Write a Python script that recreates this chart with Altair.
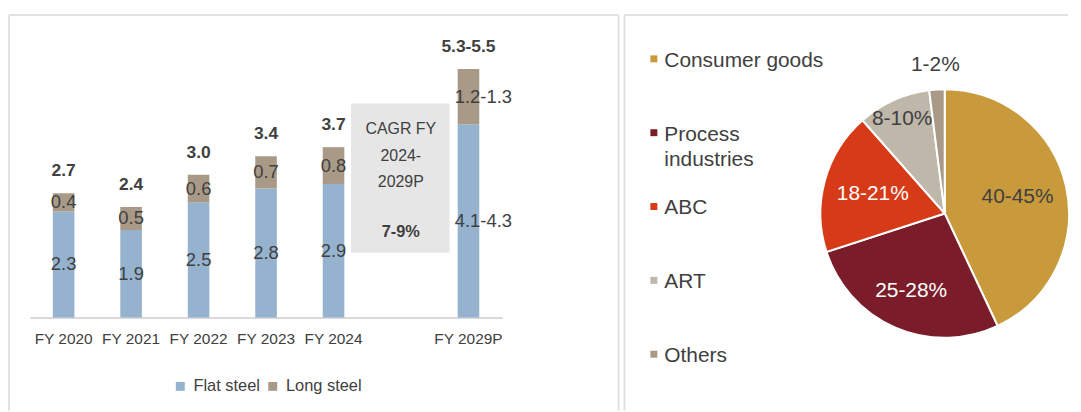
import altair as alt
import pandas as pd

# ---------------- data ----------------
years = ["FY 2020", "FY 2021", "FY 2022", "FY 2023", "FY 2024", "FY 2029P"]
flat_vals = [2.3, 1.9, 2.5, 2.8, 2.9, 4.2]
long_vals = [0.4, 0.5, 0.6, 0.7, 0.8, 1.2]
flat_labels = ["2.3", "1.9", "2.5", "2.8", "2.9", "4.1-4.3"]
long_labels = ["0.4", "0.5", "0.6", "0.7", "0.8", "1.2-1.3"]
total_labels = ["2.7", "2.4", "3.0", "3.4", "3.7", "5.3-5.5"]
steel_types = ["Flat steel", "Long steel"]
steel_colors = ["#95B3CF", "#A89A87"]
gap_slot = " "
cagr_title = "CAGR FY\n2024-\n2029P"
cagr_value = "7-9%"

segments = ["Consumer goods", "Process industries", "ABC", "ART", "Others"]
shares = [43, 27, 18.5, 9.5, 2]
share_labels = ["40-45%", "25-28%", "18-21%", "8-10%", "1-2%"]
segment_colors = ["#C99A3B", "#7B1C2A", "#D63A16", "#BEB7AA", "#A89A87"]
legend_labels = ["Consumer goods", "Process\nindustries", "ABC", "ART", "Others"]

# ---------------- style ----------------
FONT = "Liberation Sans, Arial, sans-serif"
TXT = "#404040"
FRAME = "#E2E2E2"
LW, H = 613, 398
RW = 446

rows = []
for i, yr in enumerate(years):
    rows.append({"year": yr, "type": steel_types[0], "ord": 0, "value": flat_vals[i],
                 "label": flat_labels[i], "total": total_labels[i]})
    rows.append({"year": yr, "type": steel_types[1], "ord": 1, "value": long_vals[i],
                 "label": long_labels[i], "total": total_labels[i]})
bars_df = pd.DataFrame(rows)

x_domain = years[:5] + [gap_slot] + years[5:]
xscale = alt.Scale(domain=x_domain, range=[21, 496], paddingInner=0.68, paddingOuter=0.34)
yscale = alt.Scale(domain=[0, 6.57], range=[304, 0], nice=False, zero=False)

xenc = alt.X("year:N", scale=xscale,
             axis=alt.Axis(title=None, labelAngle=0, ticks=False, tickSize=0,
                           domainColor="#D9D9D9", domainWidth=2, labelPadding=14.5,
                           labelFontSize=15.5, labelFont=FONT, labelColor=TXT,
                           offset=304 - H, grid=False))

base = alt.Chart(bars_df).transform_stack(
    stack="value", groupby=["year"], as_=["y0", "y1"],
    sort=[alt.SortField("ord", order="ascending")]
).transform_calculate(mid="(datum.y0 + datum.y1) / 2")

bars = base.mark_bar().encode(
    x=xenc,
    y=alt.Y("y0:Q", scale=yscale, axis=None),
    y2="y1:Q",
    color=alt.Color("type:N", scale=alt.Scale(domain=steel_types, range=steel_colors),
                    legend=alt.Legend(orient="none", legendX=164, legendY=365,
                                      direction="horizontal", title=None,
                                      symbolType="square", symbolSize=81,
                                      symbolStrokeWidth=0, labelFontSize=16.5,
                                      labelFont=FONT, labelColor=TXT,
                                      columnPadding=4, labelOffset=5, padding=0)),
)

seg_text = base.transform_filter(alt.datum.year != years[-1]).mark_text(
    fontSize=18.5, font=FONT, color=TXT, baseline="middle"
).encode(x=xenc, y=alt.Y("mid:Q", scale=yscale, axis=None), text="label:N")

seg_text_last = base.transform_filter(alt.datum.year == years[-1]).mark_text(
    fontSize=18.5, font=FONT, color=TXT, baseline="middle", dx=15
).encode(x=xenc, y=alt.Y("mid:Q", scale=yscale, axis=None), text="label:N")

totals = base.transform_joinaggregate(tot="sum(value)", groupby=["year"]).transform_filter(
    alt.datum.type == steel_types[0]
).mark_text(fontSize=17.5, font=FONT, fontWeight="bold", color=TXT, baseline="bottom", dy=-13).encode(
    x=xenc, y=alt.Y("tot:Q", scale=yscale, axis=None), text="total:N")

one = pd.DataFrame({"t": [cagr_title], "v": [cagr_value]})
cagr_box = alt.Chart(one).mark_rect(color="#E6E6E6").encode(
    x=alt.value(344), x2=alt.value(443), y=alt.value(89), y2=alt.value(239))
cagr_txt = alt.Chart(one).mark_text(
    fontSize=16, font=FONT, color=TXT, baseline="top", lineBreak="\n", lineHeight=26.5
).encode(x=alt.value(394), y=alt.value(107), text="t:N")
cagr_val = alt.Chart(one).mark_text(
    fontSize=16.5, font=FONT, color=TXT, baseline="middle", fontWeight="bold"
).encode(x=alt.value(394), y=alt.value(218), text="v:N")


def frame(width, right=True):
    parts = [
        alt.Chart(one).mark_rule(color=FRAME, strokeWidth=2).encode(
            x=alt.value(0), y=alt.value(0), y2=alt.value(H)),
        alt.Chart(one).mark_rule(color=FRAME, strokeWidth=2).encode(
            x=alt.value(0), x2=alt.value(width), y=alt.value(0)),
    ]
    if right:
        parts.append(alt.Chart(one).mark_rule(color=FRAME, strokeWidth=2).encode(
            x=alt.value(width), y=alt.value(0), y2=alt.value(H)))
    return parts


left = alt.layer(*frame(LW), cagr_box, bars, seg_text, seg_text_last, totals,
                 cagr_txt, cagr_val).properties(width=LW, height=H)

# ---------------- right panel ----------------
pie_df = pd.DataFrame({"seg": segments, "share": shares, "label": share_labels,
                       "ord": list(range(len(segments)))})
leg_df = pd.DataFrame({"seg": segments, "lab": legend_labels})

seg_scale = alt.Scale(domain=segments, range=segment_colors)
theta_scale = alt.Scale(domain=[0, 100], range=[0, 6.283185307179586])
CX, CY = 322, 199.5

pie_base = alt.Chart(pie_df).transform_window(
    cum="sum(share)", sort=[alt.SortField("ord", order="ascending")], frame=[None, 0]
).transform_calculate(start="datum.cum - datum.share", mid="datum.cum - datum.share / 2")

arcs = pie_base.mark_arc(outerRadius=125, stroke="white", strokeWidth=2).encode(
    x=alt.value(CX), y=alt.value(CY),
    theta=alt.Theta("start:Q", scale=theta_scale, stack=False),
    theta2="cum:Q",
    color=alt.Color("seg:N", scale=seg_scale, legend=None),
)


def pie_label(name, radius, color):
    return pie_base.transform_filter(
        alt.FieldOneOfPredicate(field="seg", oneOf=[name])
    ).mark_text(radius=radius, fontSize=21, font=FONT, color=color, baseline="middle").encode(
        x=alt.value(CX), y=alt.value(CY),
        theta=alt.Theta("mid:Q", scale=theta_scale, stack=False),
        text="label:N")


pie_labels = [
    pie_label(segments[0], 75, TXT),
    pie_label(segments[1], 85, "white"),
    pie_label(segments[2], 75, "white"),
    pie_label(segments[3], 104, TXT),
    pie_label(segments[4], 150, TXT),
]

leg_y = alt.Y("seg:N", scale=alt.Scale(domain=segments, range=[44, 341], padding=0), axis=None)
leg_sq = alt.Chart(leg_df).mark_square(size=49, opacity=1).encode(
    x=alt.value(29.5), y=leg_y, color=alt.Color("seg:N", scale=seg_scale, legend=None))
leg_tx = alt.Chart(leg_df).mark_text(
    align="left", baseline="top", dy=-9, fontSize=21, font=FONT, color=TXT,
    lineBreak="\n", lineHeight=26
).encode(x=alt.value(40), y=leg_y, text="lab:N")

right = alt.layer(*frame(RW, right=False), arcs, *pie_labels,
                  leg_sq, leg_tx).properties(width=RW, height=H)

chart = alt.hconcat(left, right, spacing=4).properties(
    padding={"left": 0, "top": 5, "right": 0, "bottom": 0}
).configure_view(strokeWidth=0).resolve_scale(color="independent", y="independent",
                                               x="independent", theta="independent")

chart.save("out.html", embed_options={"renderer": "svg", "actions": False})
